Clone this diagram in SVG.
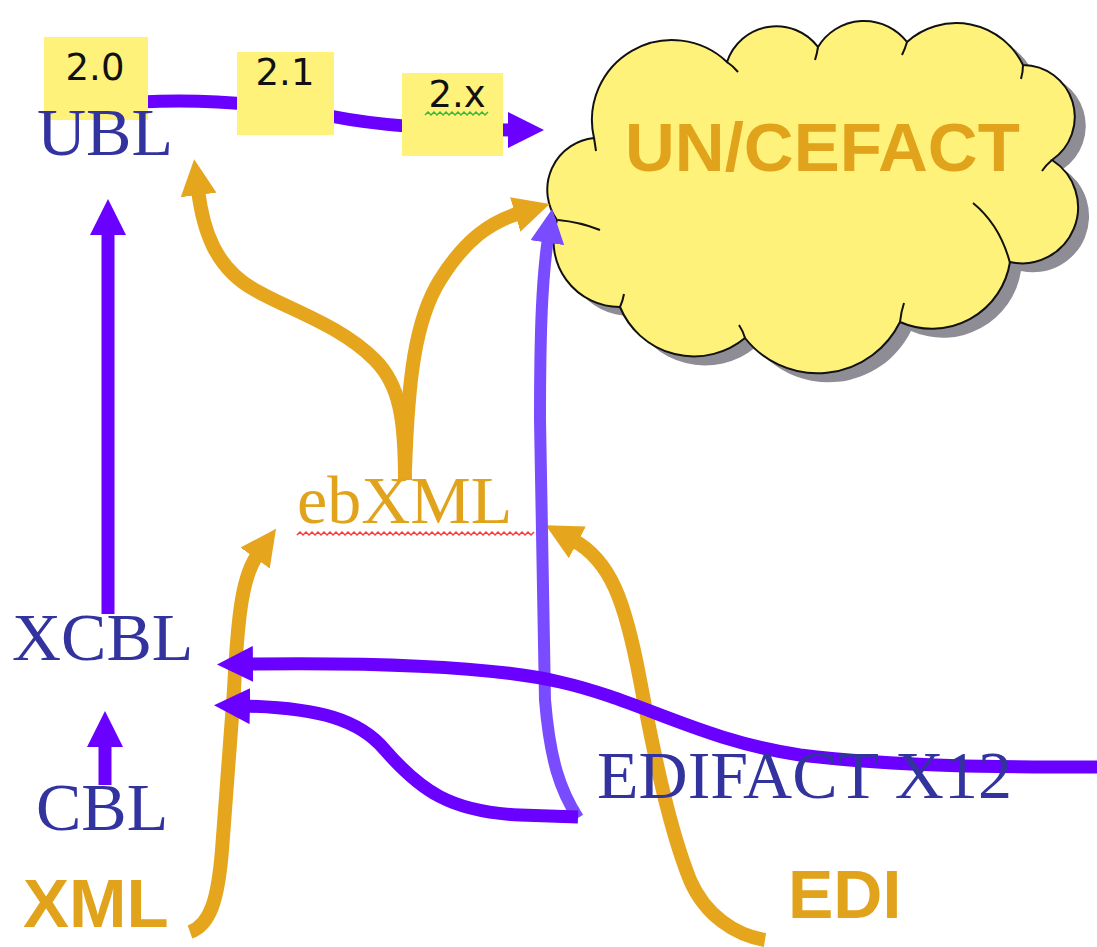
<svg xmlns="http://www.w3.org/2000/svg" width="1097" height="947" viewBox="0 0 1097 947">
<style>
.serif{font-family:"Liberation Serif","Times New Roman",serif;font-size:68px}
.blue{fill:#33339F}
.orng{fill:#E2A31C}
.sans{font-family:"Liberation Sans",Arial,sans-serif;font-weight:bold}
.ver{font-family:"DejaVu Sans",sans-serif;font-size:37px;fill:#111}
.box{fill:#FFF27A}
.po{fill:none;stroke:#E5A61E;stroke-width:14}
.pp{fill:none;stroke:#6A00FF;stroke-width:13}
.pl{fill:none;stroke:#7A4CFF;stroke-width:12}
.crease{fill:none;stroke:#111;stroke-width:2}
</style>
<defs>
<marker id="ao" viewBox="0 0 36 36" markerWidth="36" markerHeight="36" markerUnits="userSpaceOnUse" refX="5" refY="18" orient="auto"><path d="M0,0 L36,18 L0,36 z" fill="#E5A61E"/></marker>
<marker id="ap" viewBox="0 0 36 36" markerWidth="36" markerHeight="36" markerUnits="userSpaceOnUse" refX="5" refY="18" orient="auto"><path d="M0,0 L36,18 L0,36 z" fill="#6A00FF"/></marker>
<marker id="al" viewBox="0 0 36 36" markerWidth="34" markerHeight="34" markerUnits="userSpaceOnUse" refX="5" refY="18" orient="auto"><path d="M0,0 L36,18 L0,36 z" fill="#7A4CFF"/></marker>
<path id="cloudShape" d="M 594 138 A 80 80 0 0 1 727 62 A 52 52 0 0 1 818 47 A 54 54 0 0 1 907 42 A 74 74 0 0 1 1023 65 A 52 52 0 0 1 1052 160 A 56 56 0 0 1 1010 262 A 79 79 0 0 1 900 322 A 92 92 0 0 1 745 338 A 80 80 0 0 1 620 307 A 66 66 0 0 1 557 220 A 52 52 0 0 1 594 138 Z"/>
</defs>
<rect width="1097" height="947" fill="#FFFFFF"/>

<g id="uncefact">
<use href="#cloudShape" transform="translate(11,9)" fill="#8E8C94"/>
<use href="#cloudShape" fill="#FFF27A" stroke="#111" stroke-width="2"/>
<path class="crease" d="M 727 62 Q 733 66 738 72 M 818 47 Q 817 54 815 60 M 907 42 Q 905 49 902 55 M 1023 65 Q 1023 72 1021 79 M 1052 160 Q 1046 165 1042 171 M 973 203 Q 1000 225 1010 263 M 900 322 Q 901 312 904 303 M 745 338 Q 743 331 739 325 M 620 307 Q 623 300 624 294 M 558 220 Q 580 222 600 230 M 594 138 Q 595 144 596 151"/>
<text class="sans orng" x="625" y="171" font-size="69">UN/CEFACT</text>
</g>

<g id="connectors">
<path class="po" d="M 190 932 C 210 925 218 900 222 850 L 234 690 C 238 610 243 575 258 554" marker-end="url(#ao)"/>
<path class="po" d="M 765 940 C 735 935 705 915 690 880 C 670 830 655 760 640 680 C 625 600 610 560 573 540" marker-end="url(#ao)"/>
<path class="po" d="M 405 480 C 405 420 400 385 375 360 C 340 325 290 310 255 290 C 215 268 203 230 198 190" marker-end="url(#ao)"/>
<path class="po" d="M 405 470 C 408 380 415 320 440 280 C 465 240 490 222 520 213" marker-end="url(#ao)"/>
<path class="pl" d="M 578 818 C 560 790 550 760 545 700 L 540 420 C 540 330 542 280 548 238" marker-end="url(#al)"/>
<path class="pp" d="M 1100 767 C 1000 767 900 767 800 755 C 700 740 640 700 560 682 C 500 668 400 662 248 664" marker-end="url(#ap)"/>
<path class="pp" d="M 578 817 L 520 815 C 450 812 420 790 385 750 C 360 720 320 708 245 706" marker-end="url(#ap)"/>
<path class="pp" d="M 108 614 L 108 230" marker-end="url(#ap)"/>
<path class="pp" d="M 105 785 L 105 742" marker-end="url(#ap)"/>
<path class="pp" d="M 140 102 C 200 99 260 102 330 116 C 380 126 440 130 513 130" marker-end="url(#ap)"/>
</g>

<g id="ubl">
<rect class="box" x="44" y="37" width="104" height="83"/>
<text class="ver" x="95" y="80" text-anchor="middle">2.0</text>
<text class="serif blue" x="37" y="155" font-size="70">UBL</text>
</g>
<g id="v21">
<rect class="box" x="237" y="52" width="97" height="83"/>
<text class="ver" x="285" y="85" text-anchor="middle">2.1</text>
</g>
<g id="v2x">
<rect class="box" x="402" y="73" width="101" height="83"/>
<text class="ver" x="457" y="107" text-anchor="middle">2.x</text>
<path d="M 425 115 l 3 -3 l 3 3 l 3 -3 l 3 3 l 3 -3 l 3 3 l 3 -3 l 3 3 l 3 -3 l 3 3 l 3 -3 l 3 3 l 3 -3 l 3 3 l 3 -3 l 3 3 l 3 -3 l 3 3 l 3 -3 l 3 3 l 3 -3" fill="none" stroke="#3DB83D" stroke-width="1.5"/>
</g>

<g id="ebxml">
<text class="serif orng" x="297" y="523">ebXML</text>
<path d="M 297 535 l 3 -3 l 3 3 l 3 -3 l 3 3 l 3 -3 l 3 3 l 3 -3 l 3 3 l 3 -3 l 3 3 l 3 -3 l 3 3 l 3 -3 l 3 3 l 3 -3 l 3 3 l 3 -3 l 3 3 l 3 -3 l 3 3 l 3 -3 l 3 3 l 3 -3 l 3 3 l 3 -3 l 3 3 l 3 -3 l 3 3 l 3 -3 l 3 3 l 3 -3 l 3 3 l 3 -3 l 3 3 l 3 -3 l 3 3 l 3 -3 l 3 3 l 3 -3 l 3 3 l 3 -3 l 3 3 l 3 -3 l 3 3 l 3 -3 l 3 3 l 3 -3 l 3 3 l 3 -3 l 3 3 l 3 -3 l 3 3 l 3 -3 l 3 3 l 3 -3 l 3 3 l 3 -3 l 3 3 l 3 -3 l 3 3 l 3 -3 l 3 3 l 3 -3 l 3 3 l 3 -3 l 3 3 l 3 -3 l 3 3 l 3 -3 l 3 3 l 3 -3 l 3 3 l 3 -3 l 3 3 l 3 -3 l 3 3 l 3 -3 l 3 3 l 3 -3" fill="none" stroke="#FF3B3B" stroke-width="1.5"/>
</g>
<g id="xcbl"><text class="serif blue" x="12" y="660">XCBL</text></g>
<g id="cbl"><text class="serif blue" x="36" y="830">CBL</text></g>
<g id="edifact"><text class="serif blue" x="597" y="798" font-size="69">EDIFACT X12</text></g>
<g id="xml"><text class="sans orng" x="23" y="927" font-size="69">XML</text></g>
<g id="edi"><text class="sans orng" x="788" y="918" font-size="68">EDI</text></g>
</svg>
